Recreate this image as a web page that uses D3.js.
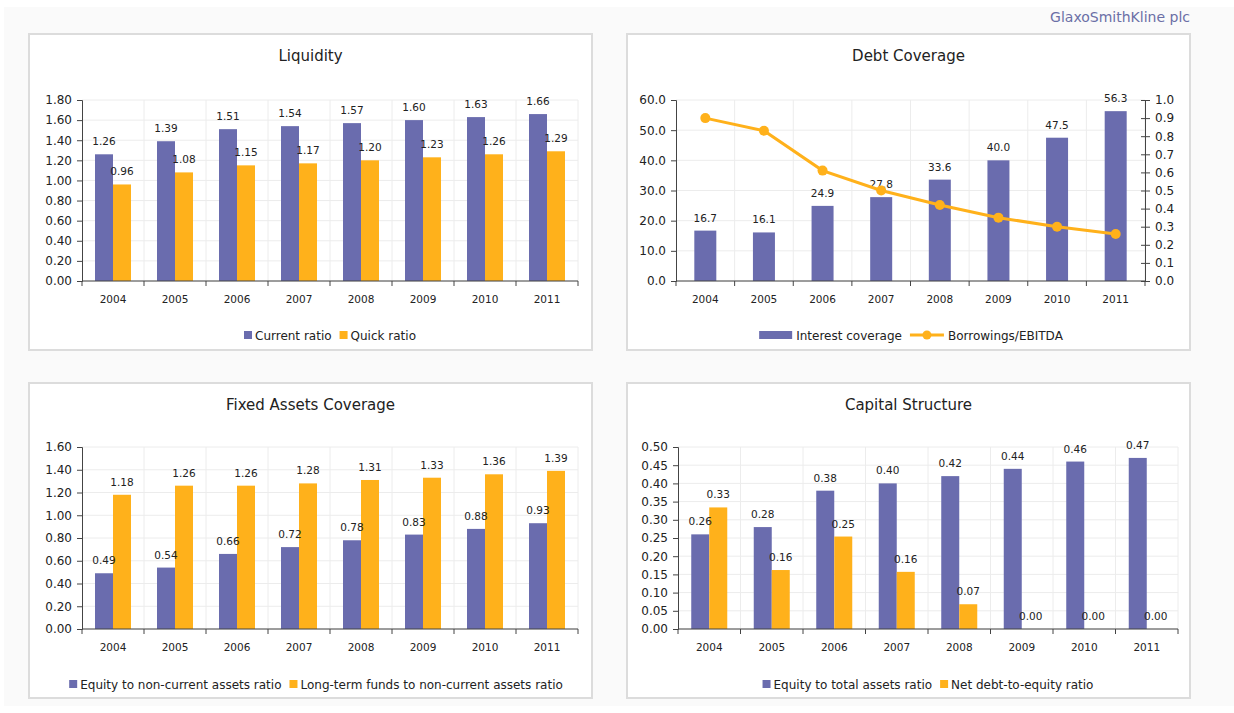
<!DOCTYPE html>
<html>
<head>
<title>GlaxoSmithKline ratios</title>
<script src="https://d3js.org/d3.v7.min.js"></script>
<style>
	body {margin:0; background:#ffffff; font-family:"DejaVu Sans", Verdana, sans-serif;}
	svg text {fill:#222;}
</style>
</head>
<body>
<div id="mydiv"></div>
<script>
var years = ["2004","2005","2006","2007","2008","2009","2010","2011"];

var currentRatio = [1.26,1.39,1.51,1.54,1.57,1.60,1.63,1.66];
var quickRatio = [0.96,1.08,1.15,1.17,1.20,1.23,1.26,1.29];

var interestCoverage = [16.7,16.1,24.9,27.8,33.6,40.0,47.5,56.3];
var borrowingsEbitda = [0.90,0.83,0.61,0.50,0.42,0.35,0.30,0.26];

var equityToNca = [0.49,0.54,0.66,0.72,0.78,0.83,0.88,0.93];
var ltFundsToNca = [1.18,1.26,1.26,1.28,1.31,1.33,1.36,1.39];

var equityToAssets = [0.26,0.28,0.38,0.40,0.42,0.44,0.46,0.47];
var netDebtToEquity = [0.334,0.162,0.254,0.157,0.068,0.00,0.00,0.00];

var liquidityTicks = [0,0.2,0.4,0.6,0.8,1.0,1.2,1.4,1.6,1.8];
var debtTicks = [0,10,20,30,40,50,60];
var debtRightTicks = [0,0.1,0.2,0.3,0.4,0.5,0.6,0.7,0.8,0.9,1.0];
var fixedTicks = [0,0.2,0.4,0.6,0.8,1.0,1.2,1.4,1.6];
var capitalTicks = [0,0.05,0.1,0.15,0.2,0.25,0.3,0.35,0.4,0.45,0.5];

var blue = "#6a6cae";
var orange = "#ffb11b";
var gridColor = "#ececec";
var axisColor = "#444";

var svg = d3.select("#mydiv").append("svg")
	.attr("width",1234)
	.attr("height",713);

// page background
svg.append("rect").attr("x",4).attr("y",7).attr("width",1230).attr("height",699).attr("fill","#fafafa");

svg.append("text")
	.attr("x",1190).attr("y",22)
	.attr("text-anchor","end")
	.attr("font-size","14px")
	.style("fill","#6b6fa6")
	.text("GlaxoSmithKline plc");

function panel(box, title, plot, yMax, ticks, fmt, series, labelFmt) {
	var g = svg.append("g");
	g.append("rect")
		.attr("x",box.x).attr("y",box.y).attr("width",box.w).attr("height",box.h)
		.attr("fill","white").attr("stroke","#dcdcdc").attr("stroke-width",2);
	g.append("text")
		.attr("x",box.x + box.w/2).attr("y",box.y + 27)
		.attr("text-anchor","middle").attr("font-size","15px")
		.text(title);

	var x = d3.scaleBand().domain(years).range([plot.left, plot.right]);
	var y = d3.scaleLinear().domain([0,yMax]).range([plot.bottom, plot.top]);

	// grid
	g.selectAll(".hgrid").data(ticks).enter().append("line")
		.attr("x1",plot.left).attr("x2",plot.right)
		.attr("y1",function(d){return y(d);}).attr("y2",function(d){return y(d);})
		.attr("stroke",gridColor);
	var bounds = years.map(function(d){return x(d);}).concat([plot.right]);
	g.selectAll(".vgrid").data(bounds.slice(1)).enter().append("line")
		.attr("x1",function(d){return d;}).attr("x2",function(d){return d;})
		.attr("y1",plot.top).attr("y2",plot.bottom)
		.attr("stroke",gridColor);

	// bars first, labels after so they sit on top
	var barW = plot.barW;
	var n = series.length;
	var barLayer = g.append("g");
	var labelLayer = g.append("g");
	series.forEach(function(s, bi) {
		var off = x.bandwidth()/2 - n*barW/2 + bi*barW;
		barLayer.selectAll(null).data(s.values).enter().append("rect")
			.attr("x",function(d,i){return x(years[i]) + off;})
			.attr("y",function(d){return y(d);})
			.attr("width",barW)
			.attr("height",function(d){return plot.bottom - y(d);})
			.attr("fill",s.color);
		labelLayer.selectAll(null).data(s.values).enter().append("text")
			.attr("x",function(d,i){return x(years[i]) + off + barW/2;})
			.attr("y",function(d){return y(d) - 9;})
			.attr("text-anchor","middle").attr("font-size","10.5px")
			.text(function(d){return labelFmt(d);});
	});

	// axes
	var xAxis = g.append("g");
	xAxis.append("line").attr("x1",plot.left).attr("x2",plot.right)
		.attr("y1",plot.bottom).attr("y2",plot.bottom).attr("stroke",axisColor);
	xAxis.selectAll(null).data(bounds).enter().append("line")
		.attr("x1",function(d){return d;}).attr("x2",function(d){return d;})
		.attr("y1",plot.bottom).attr("y2",plot.bottom+5).attr("stroke",axisColor);
	xAxis.selectAll(null).data(years).enter().append("text")
		.attr("x",function(d){return x(d)+x.bandwidth()/2;})
		.attr("y",plot.bottom+22)
		.attr("text-anchor","middle").attr("font-size","10.5px")
		.text(function(d){return d;});

	var yAxis = g.append("g").attr("transform","translate("+plot.left+",0)")
		.call(d3.axisLeft(y).tickValues(ticks).tickFormat(fmt).tickSize(5).tickPadding(5));
	yAxis.select(".domain").attr("stroke",axisColor);
	yAxis.selectAll(".tick line").attr("stroke",axisColor);
	yAxis.selectAll("text").attr("font-size","12px").attr("font-family","DejaVu Sans").style("fill","#222");

	return {g:g, x:x, y:y, labels:labelLayer};
}

function legend(g, cx, cy, items) {
	var lg = g.append("g");
	var pos = 0;
	items.forEach(function(it) {
		var item = lg.append("g").attr("transform","translate("+pos+",0)");
		var mw;
		if (it.type == "square") {
			item.append("rect").attr("x",0).attr("y",-4).attr("width",8).attr("height",8).attr("fill",it.color);
			mw = 11;
		} else if (it.type == "wide") {
			item.append("rect").attr("x",0).attr("y",-4).attr("width",33).attr("height",8).attr("fill",it.color);
			mw = 37;
		} else {
			item.append("line").attr("x1",0).attr("x2",34).attr("y1",0).attr("y2",0)
				.attr("stroke",it.color).attr("stroke-width",3);
			item.append("circle").attr("cx",17).attr("cy",0).attr("r",4.5).attr("fill",it.color);
			mw = 38;
		}
		var t = item.append("text").attr("x",mw).attr("y",4.5).attr("font-size","12px").text(it.label);
		pos += mw + t.node().getComputedTextLength() + 8;
	});
	lg.attr("transform","translate("+(cx - (pos-8)/2)+","+cy+")");
}

var f2 = d3.format(".2f");
var f1 = d3.format(".1f");

// Liquidity
var p1 = panel({x:29,y:34,w:563,h:316}, "Liquidity",
	{left:82,right:578,top:100,bottom:281,barW:18}, 1.8, liquidityTicks, f2,
	[{values:currentRatio,color:blue},{values:quickRatio,color:orange}], f2);
legend(p1.g, 330, 335, [{type:"square",color:blue,label:"Current ratio"},{type:"square",color:orange,label:"Quick ratio"}]);

// Debt Coverage
var p2 = panel({x:627,y:34,w:563,h:316}, "Debt Coverage",
	{left:676,right:1145,top:100,bottom:281,barW:22}, 60, debtTicks, f1,
	[{values:interestCoverage,color:blue}], f1);
var y2 = d3.scaleLinear().domain([0,1]).range([281,100]);
var rAxis = p2.g.append("g").attr("transform","translate(1145,0)")
	.call(d3.axisRight(y2).tickValues(debtRightTicks).tickFormat(f1).tickSize(5).tickPadding(5));
rAxis.select(".domain").attr("stroke",axisColor);
rAxis.selectAll(".tick line").attr("stroke",axisColor).attr("x1",-4);
rAxis.selectAll("text").attr("font-size","12px").attr("font-family","DejaVu Sans").style("fill","#222");
var line = d3.line()
	.x(function(d,i){return p2.x(years[i]) + p2.x.bandwidth()/2;})
	.y(function(d){return y2(d);});
p2.g.append("path").datum(borrowingsEbitda).attr("d",line)
	.attr("fill","none").attr("stroke",orange).attr("stroke-width",3);
p2.g.selectAll(null).data(borrowingsEbitda).enter().append("circle")
	.attr("cx",function(d,i){return p2.x(years[i]) + p2.x.bandwidth()/2;})
	.attr("cy",function(d){return y2(d);})
	.attr("r",5).attr("fill",orange);
legend(p2.g, 911, 335, [{type:"wide",color:blue,label:"Interest coverage"},{type:"line",color:orange,label:"Borrowings/EBITDA"}]);

// Fixed Assets Coverage
var p3 = panel({x:29,y:383,w:563,h:315}, "Fixed Assets Coverage",
	{left:82,right:578,top:447,bottom:629,barW:18}, 1.6, fixedTicks, f2,
	[{values:equityToNca,color:blue},{values:ltFundsToNca,color:orange}], f2);
legend(p3.g, 316, 684, [{type:"square",color:blue,label:"Equity to non-current assets ratio"},{type:"square",color:orange,label:"Long-term funds to non-current assets ratio"}]);

// Capital Structure
var p4 = panel({x:627,y:383,w:563,h:315}, "Capital Structure",
	{left:678,right:1178,top:447,bottom:629,barW:18}, 0.5, capitalTicks, f2,
	[{values:equityToAssets,color:blue},{values:netDebtToEquity,color:orange}], f2);
legend(p4.g, 928, 684, [{type:"square",color:blue,label:"Equity to total assets ratio"},{type:"square",color:orange,label:"Net debt-to-equity ratio"}]);
</script>
</body>
</html>
